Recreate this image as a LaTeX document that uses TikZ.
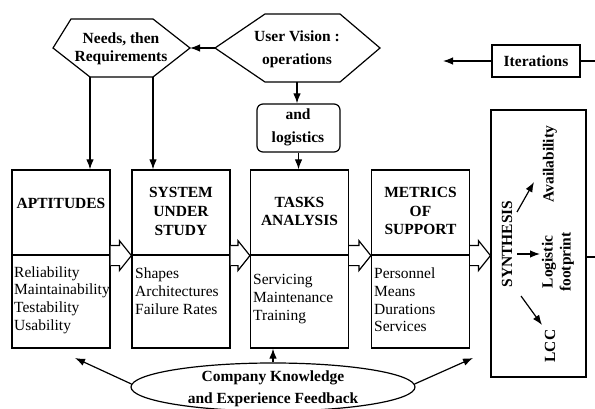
\documentclass[tikz,border=0pt]{standalone}
\usepackage{fontspec}
\setmainfont{Liberation Serif}
\usetikzlibrary{calc,arrows.meta,shapes.geometric}
\tikzset{
  lbl/.style={font=\fontsize{15.5}{18}\selectfont\bfseries, align=center, inner sep=0pt},
  lst/.style={font=\fontsize{15.5}{17.7}\selectfont, align=left, anchor=west, inner sep=0pt},
  bx/.style={draw, line width=1.2pt, inner sep=0pt, minimum width=98pt},
  upbox/.style={bx, minimum height=85pt},
  lowbox/.style={bx, minimum height=93pt},
  arr/.style={-{Latex[length=10pt,width=7.5pt]}, line width=1.2pt},
  ln/.style={line width=1.2pt},
}
\newcommand\hollowarrow[2]{%
  \draw[ln, fill=white] ($(#1)+(0,-10)$) -- ($(#2)+(-12,-10)$) -- ($(#2)+(-12,-15)$) -- (#2)
    -- ($(#2)+(-12,15)$) -- ($(#2)+(-12,10)$) -- ($(#1)+(0,10)$);}
\begin{document}
\begin{tikzpicture}[x=1pt, y=-1pt]
\useasboundingbox (0,0) rectangle (595,409);

% Needs hexagon
\coordinate (ndW) at (53,48);
\coordinate (ndTL) at (71,19);
\coordinate (ndTR) at (153,19);
\coordinate (ndE) at (190,48);
\coordinate (ndBR) at (153,77);
\coordinate (ndBL) at (90,77);
\draw[ln] (ndW) -- (ndTL) -- (ndTR) -- (ndE) -- (ndBR) -- (ndBL) -- cycle;
\node[lbl] (needs) at (121,49) {Needs, then\\Requirements};

% User vision hexagon
\coordinate (uvW) at (215,48);
\coordinate (uvTL) at (265,14);
\coordinate (uvTR) at (340,14);
\coordinate (uvE) at (380,48);
\coordinate (uvBR) at (340,82);
\coordinate (uvBL) at (265,82);
\coordinate (uvS) at (297,82);
\draw[ln] (uvW) -- (uvTL) -- (uvTR) -- (uvE) -- (uvBR) -- (uvBL) -- cycle;
\node[lbl, font=\fontsize{15.5}{23}\selectfont\bfseries] (uv) at (297,49) {User Vision :\\operations};

% and logistics
\node[draw, ln, rounded corners=6pt, minimum width=83pt, minimum height=48pt, inner sep=0pt] (logi) at (298.5,128) {};
\node[lbl, font=\fontsize{15.5}{23}\selectfont\bfseries] (logit) at (298,127) {and\\logistics};

% Iterations
\node[draw, ln, minimum width=88pt, minimum height=32pt, inner sep=0pt, font=\fontsize{15.5}{18}\selectfont\bfseries] (iter) at (536,61) {Iterations};
\coordinate (itL) at (443,61);
\coordinate (itR) at (595,61);
\draw[arr] (iter.west) -- (itL);
\draw[ln] (itR) -- (iter.east);

% main boxes
\node[upbox] (aptU) at (61,212.5) {};
\node[lowbox] (aptL) at (61,301.5) {};
\node[upbox] (sysU) at (181,212.5) {};
\node[lowbox] (sysL) at (181,301.5) {};
\node[upbox] (tskU) at (299.5,212.5) {};
\node[lowbox] (tskL) at (299.5,301.5) {};
\node[upbox] (metU) at (420.5,212.5) {};
\node[lowbox] (metL) at (420.5,301.5) {};
\node[draw, ln, minimum width=95pt, minimum height=267pt, inner sep=0pt] (syn) at (538.5,243.5) {};

\node[lbl] (aptT) at (61,203) {APTITUDES};
\node[lbl, font=\fontsize{15.5}{19}\selectfont\bfseries] (sysT) at (181,211) {SYSTEM\\UNDER\\STUDY};
\node[lbl] (tskT) at (299.5,211) {TASKS\\ANALYSIS};
\node[lbl, font=\fontsize{15.5}{18.5}\selectfont\bfseries] (metT) at (420.5,211) {METRICS\\OF\\SUPPORT};

\node[lst] (aptX) at (14,300) {Reliability\\Maintainability\\Testability\\Usability};
\node[lst] (sysX) at (135,291) {Shapes\\Architectures\\Failure Rates};
\node[lst] (tskX) at (253,299) {Servicing\\Maintenance\\Training};
\node[lst] (metX) at (374,300) {Personnel\\Means\\Durations\\Services};

% hollow arrows
\hollowarrow{aptU.south east}{sysU.south west}
\hollowarrow{sysU.south east}{tskU.south west}
\hollowarrow{tskU.south east}{metU.south west}
\hollowarrow{metU.south east}{syn.west |- metU.south}

% connectors top
\draw[arr] (uvW) -- (ndE);
\draw[arr] (ndBL) -- (ndBL |- aptU.north);
\draw[arr] (ndBR) -- (ndBR |- sysU.north);
\draw[arr] (uvS) -- (uvS |- logi.north);
\draw[arr] (logi.south) -- (logi.south |- tskU.north);

% synthesis contents
\node[lbl, rotate=90] (synt) at (507,244) {SYNTHESIS};
\node[lbl, rotate=90] (avail) at (550,164) {Availability};
\node[lbl, rotate=90] (logf) at (558,262) {Logistic\\footprint};
\node[lbl, rotate=90] (lcc) at (550,346) {LCC};
\coordinate (sA1) at (517,212);
\coordinate (sA2) at (534,182);
\coordinate (sB1) at (517,254);
\coordinate (sB2) at (540,254);
\coordinate (sC1) at (521,296);
\coordinate (sC2) at (542,325);
\draw[arr] (sA1) -- (sA2);
\draw[arr] (sB1) -- (sB2);
\draw[arr] (sC1) -- (sC2);
\coordinate (synOut) at (595,257);
\draw[ln] (syn.east |- synOut) -- (synOut);

% company knowledge
\node[draw, ln, ellipse, minimum width=284pt, minimum height=48pt, inner sep=0pt] (ck) at (273,387) {};
\node[lbl, font=\fontsize{15.5}{22}\selectfont\bfseries] (ckt) at (273,389) {Company Knowledge\\and Experience Feedback};
\coordinate (kL) at (75,358);
\coordinate (kR) at (473,358);
\draw[arr] ($(ck.west)+(1,-3)$) -- (kL);
\draw[arr] ($(ck.east)+(-1,-3)$) -- (kR);
\draw[arr] (ck.north) -- (ck.north |- tskL.south);
\end{tikzpicture}
\end{document}
